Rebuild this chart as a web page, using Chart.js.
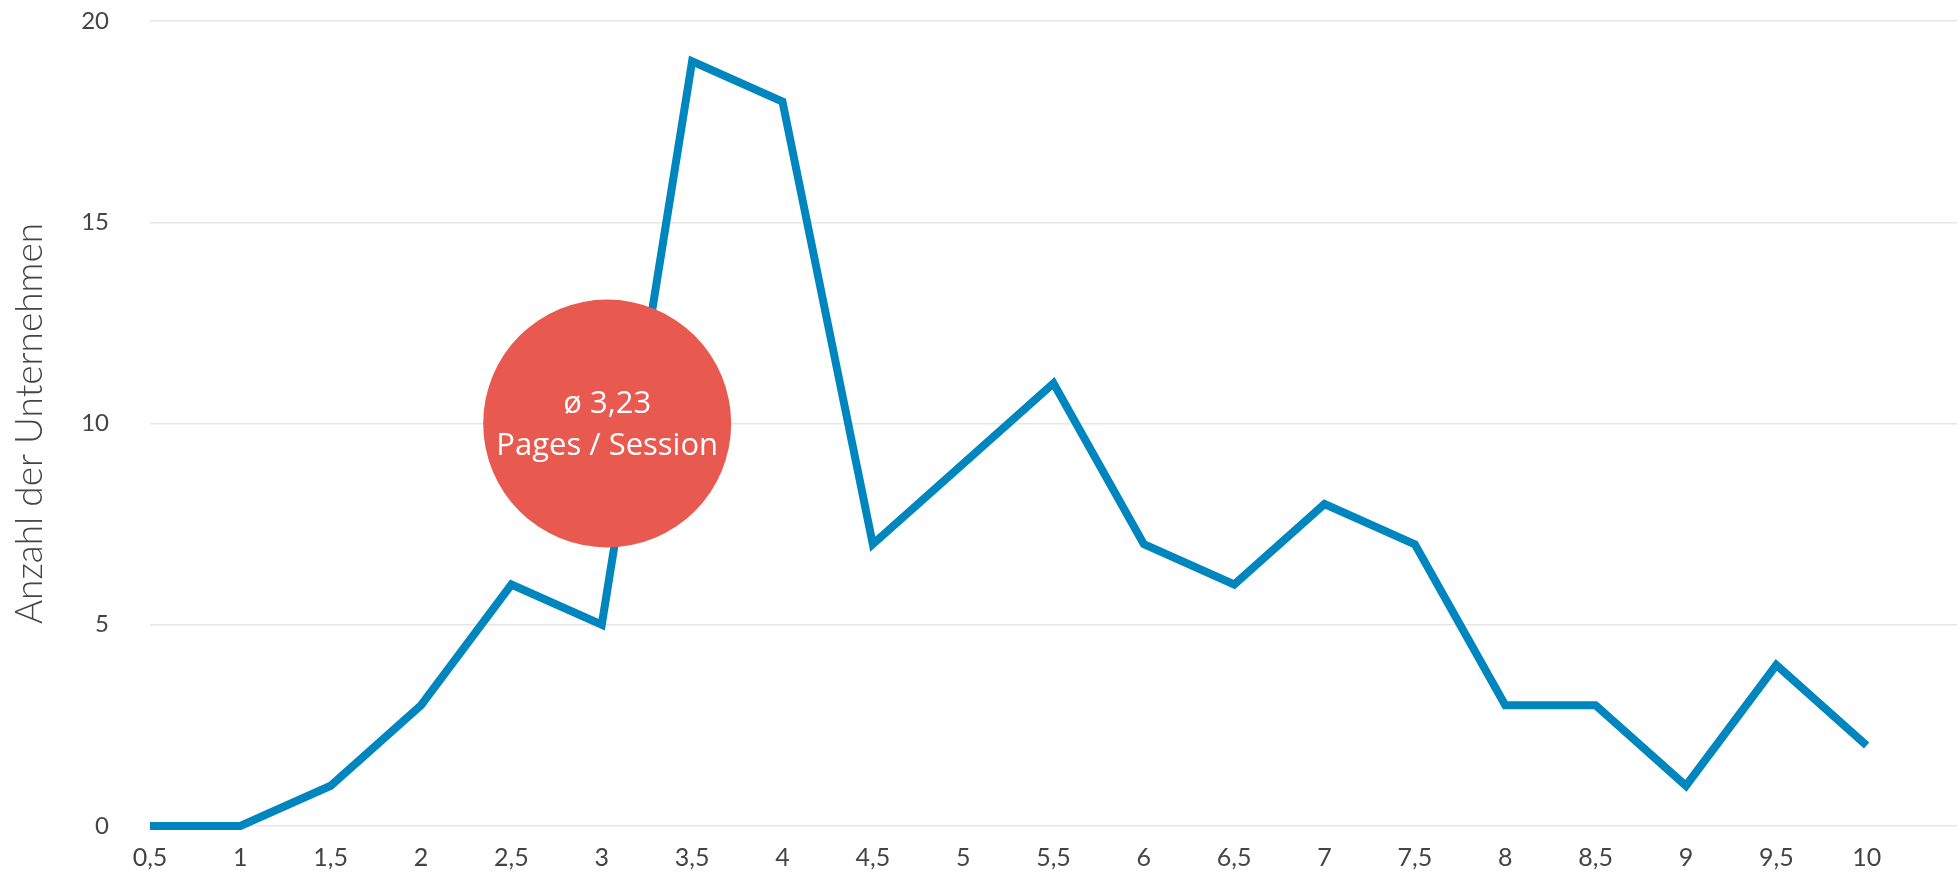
<!DOCTYPE html>
<html>
<head>
<meta charset="utf-8">
<script src="https://cdn.jsdelivr.net/npm/chart.js@4"></script>
<style>
  html, body { margin: 0; padding: 0; background: #ffffff; }
  #wrap { width: 1957px; height: 879px; position: relative; }
</style>
</head>
<body>
<div id="wrap"><canvas id="c" width="1957" height="879"></canvas></div>
<script>
// ---- data ----
const xValues = [0.5, 1, 1.5, 2, 2.5, 3, 3.5, 4, 4.5, 5, 5.5, 6, 6.5, 7, 7.5, 8, 8.5, 9, 9.5, 10];
const xTickLabels = ['0,5','1','1,5','2','2,5','3','3,5','4','4,5','5','5,5','6','6,5','7','7,5','8','8,5','9','9,5','10'];
const companies = [0, 0, 1, 3, 6, 5, 19, 18, 7, 9, 11, 7, 6, 8, 7, 3, 3, 1, 4, 2];
const yTicks = [0, 5, 10, 15, 20];
const yTitle = 'Anzahl der Unternehmen';
const averageX = 3.03;   // bubble position (data units)
const averageY = 10;
const averageLines = ['ø 3,23', 'Pages / Session'];

const linePoints = xValues.map((x, i) => ({ x: x, y: companies[i] }));

const bubbleText = {
  id: 'bubbleText',
  afterDatasetsDraw(chart) {
    const meta = chart.getDatasetMeta(1);
    const el = meta.data[0];
    if (!el) return;
    const ctx = chart.ctx;
    ctx.save();
    ctx.fillStyle = '#ffffff';
    ctx.font = '31px "Open Sans"';
    ctx.textAlign = 'center';
    ctx.textBaseline = 'middle';
    ctx.fillText(averageLines[0], el.x, el.y - 19);
    ctx.fillText(averageLines[1], el.x, el.y + 23);
    ctx.restore();
  }
};

new Chart(document.getElementById('c'), {
  type: 'line',
  data: {
    datasets: [
      {
        type: 'line',
        data: linePoints,
        borderColor: '#0086BF',
        borderWidth: 8,
        pointRadius: 0,
        pointHoverRadius: 0,
        fill: false,
        tension: 0,
        borderJoinStyle: 'miter',
        clip: false,
        order: 2
      },
      {
        type: 'bubble',
        data: [{ x: averageX, y: averageY, r: 124 }],
        backgroundColor: '#E85A4F',
        borderWidth: 0,
        clip: false,
        order: 1
      }
    ]
  },
  options: {
    responsive: false,
    animation: false,
    events: [],
    layout: { autoPadding: false, padding: { top: 21, right: 0, bottom: 0, left: 0 } },
    plugins: {
      legend: { display: false },
      tooltip: { enabled: false }
    },
    scales: {
      x: {
        type: 'linear',
        min: 0.5,
        max: 10.5,
        afterBuildTicks(axis) {
          axis.ticks = xValues.map(v => ({ value: v }));
        },
        afterFit(axis) { axis.height = 53; },
        grid: { display: false, drawTicks: false },
        border: { display: false },
        ticks: {
          autoSkip: false,
          maxRotation: 0,
          padding: 17,
          color: '#444444',
          font: { family: 'Lato', size: 25, weight: '400' },
          callback(value) {
            const i = xValues.indexOf(value);
            return i >= 0 ? xTickLabels[i] : '';
          }
        }
      },
      y: {
        min: 0,
        max: 20,
        afterBuildTicks(axis) {
          axis.ticks = yTicks.map(v => ({ value: v }));
        },
        afterFit(axis) { axis.width = 150; },
        grid: { color: '#e6e6e6', lineWidth: 1.5, drawTicks: true, tickLength: 36, tickColor: 'rgba(0,0,0,0)' },
        border: { display: false },
        ticks: {
          padding: 5,
          color: '#444444',
          font: { family: 'Lato', size: 24, weight: '400' }
        },
        title: {
          display: true,
          text: yTitle,
          color: '#444444',
          font: { family: 'Lato', size: 37, weight: '300' },
          padding: { top: 8, bottom: 0 }
        }
      }
    }
  },
  plugins: [bubbleText]
});
</script>
</body>
</html>
